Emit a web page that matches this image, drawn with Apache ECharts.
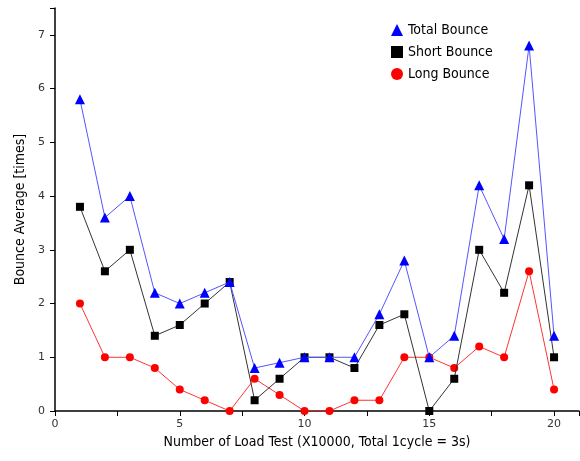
<!DOCTYPE html>
<html><head><meta charset="utf-8">
<script src="https://cdn.jsdelivr.net/npm/echarts@6/dist/echarts.min.js"></script>
<style>html,body{margin:0;padding:0;background:#fff}#c{width:580px;height:461px}</style>
</head><body><div id="c"></div>
<script>
const xValues = [1,2,3,4,5,6,7,8,9,10,11,12,13,14,15,16,17,18,19,20];
const totalBounce = [5.8,3.6,4.0,2.2,2.0,2.2,2.4,0.8,0.9,1.0,1.0,1.0,1.8,2.8,1.0,1.4,4.2,3.2,6.8,1.4];
const shortBounce = [3.8,2.6,3.0,1.4,1.6,2.0,2.4,0.2,0.6,1.0,1.0,0.8,1.6,1.8,0.0,0.6,3.0,2.2,4.2,1.0];
const longBounce  = [2.0,1.0,1.0,0.8,0.4,0.2,0.0,0.6,0.3,0.0,0.0,0.2,0.2,1.0,1.0,0.8,1.2,1.0,2.6,0.4];
const seriesNames = ['Total Bounce','Short Bounce','Long Bounce'];
const xTickLabels = ['0','5','10','15','20'];
const xTitle = 'Number of Load Test (X10000, Total 1cycle = 3s)';
const yTitle = 'Bounce Average [times]';

const pair = arr => xValues.map((x,i)=>[x,arr[i]]);
const font = '"DejaVu Sans Condensed", "Liberation Sans Narrow", sans-serif';
const chart = echarts.init(document.getElementById('c'));
chart.setOption({
  animation:false,
  backgroundColor:'#fff',
  grid:{left:55,right:1,top:8,bottom:50, outerBoundsMode:'none', containLabel:false},
  legend:{
    orient:'vertical', left:386, top:18, itemGap:8, itemWidth:12, itemHeight:12,
    textStyle:{fontFamily:font, fontSize:14, color:'#000'},
    data:[
      {name:seriesNames[0], icon:'triangle', itemStyle:{color:'#0000ff'}},
      {name:seriesNames[1], icon:'rect', itemStyle:{color:'#000'}},
      {name:seriesNames[2], icon:'circle', itemStyle:{color:'#ff0000'}}
    ]
  },
  xAxis:{
    type:'value', min:0, max:21, interval:5,
    name:xTitle, nameLocation:'middle', nameGap:22,
    nameTextStyle:{fontFamily:font, fontSize:14, color:'#000'},
    axisLine:{show:true, onZero:false, lineStyle:{color:'#000', width:1.5}},
    axisTick:{show:true, length:5, lineStyle:{color:'#000'}},
    minorTick:{show:true, splitNumber:2, length:5, lineStyle:{color:'#000'}},
    axisLabel:{fontFamily:'"DejaVu Sans", sans-serif', fontSize:11, color:'#333', margin:8,
      formatter:v=> xTickLabels.includes(String(v)) ? String(v) : ''},
    splitLine:{show:false}
  },
  yAxis:{
    type:'value', min:0, max:7.5, interval:1,
    name:yTitle, nameLocation:'middle', nameGap:27,
    nameTextStyle:{fontFamily:font, fontSize:14, color:'#000'},
    axisLine:{show:true, lineStyle:{color:'#000', width:1.5}},
    axisTick:{show:true, length:5, lineStyle:{color:'#000'}},
    axisLabel:{fontFamily:'"DejaVu Sans", sans-serif', fontSize:11, color:'#333', margin:10,
      formatter:v=> Number.isInteger(v)? String(v):''},
    splitLine:{show:false}
  },
  series:[
    {name:seriesNames[0], type:'line', data:pair(totalBounce), symbol:'triangle', symbolSize:10,
     lineStyle:{color:'#5555ff', width:1}, itemStyle:{color:'#0000ff'}, z:3},
    {name:seriesNames[1], type:'line', data:pair(shortBounce), symbol:'rect', symbolSize:8,
     lineStyle:{color:'#333', width:1}, itemStyle:{color:'#000'}, z:2},
    {name:seriesNames[2], type:'line', data:pair(longBounce), symbol:'circle', symbolSize:8,
     lineStyle:{color:'#ff3333', width:1}, itemStyle:{color:'#ff0000'}, z:1}
  ]
});
</script></body></html>
